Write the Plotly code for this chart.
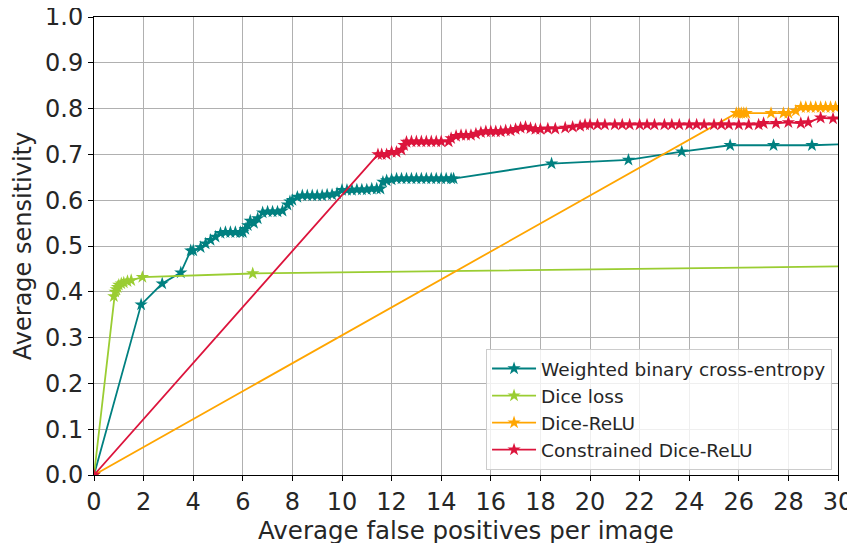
import plotly.graph_objects as go

# ---- data ----
wbce_x = [0, 1.9, 2.75, 3.5, 3.9, 4.0, 4.3, 4.5, 4.7, 4.9, 5.1, 5.3, 5.5, 5.7, 5.9, 6.0,
          6.1, 6.2, 6.3, 6.45, 6.6, 6.8, 7.0, 7.2, 7.4, 7.6, 7.8, 7.9, 8.0, 8.2, 8.4, 8.6,
          8.8, 9.0, 9.2, 9.4, 9.6, 9.8, 10.0, 10.2, 10.4, 10.6, 10.8, 11.0, 11.2, 11.4, 11.55,
          11.65, 11.8, 12.0, 12.2, 12.4, 12.6, 12.8, 13.0, 13.2, 13.4, 13.6, 13.8, 14.0, 14.2,
          14.4, 14.5, 18.45, 21.55, 23.7, 25.65, 27.4, 28.95, 31.0]
wbce_y = [0, 0.372, 0.418, 0.442, 0.49, 0.49, 0.497, 0.505, 0.513, 0.52, 0.528, 0.53, 0.53,
          0.53, 0.53, 0.53, 0.537, 0.545, 0.555, 0.55, 0.56, 0.573, 0.575, 0.575, 0.575, 0.577,
          0.59, 0.597, 0.6, 0.607, 0.61, 0.61, 0.61, 0.61, 0.61, 0.612, 0.612, 0.615, 0.622,
          0.622, 0.622, 0.623, 0.623, 0.623, 0.625, 0.625, 0.625, 0.64, 0.643, 0.645, 0.647,
          0.647, 0.647, 0.647, 0.647, 0.647, 0.647, 0.647, 0.647, 0.647, 0.647, 0.647, 0.647,
          0.68, 0.688, 0.706, 0.72, 0.72, 0.72, 0.724]

dice_x = [0, 0.8, 0.85, 0.9, 0.95, 1.0, 1.1, 1.2, 1.35, 1.5, 1.95, 6.4, 31.0]
dice_y = [0, 0.39, 0.40, 0.405, 0.41, 0.415, 0.418, 0.42, 0.423, 0.425, 0.432, 0.44, 0.456]

relu_x = [0, 25.9, 26.0, 26.1, 26.2, 26.3, 27.3, 27.8, 28.0, 28.3, 28.5, 28.7, 28.9, 29.1,
          29.3, 29.5, 29.7, 29.9, 31.0]
relu_y = [0, 0.79, 0.79, 0.79, 0.79, 0.79, 0.79, 0.79, 0.79, 0.795, 0.803, 0.803, 0.803,
          0.803, 0.803, 0.803, 0.803, 0.803, 0.803]

cdr_x = [0, 11.45, 11.6, 11.8, 12.0, 12.2, 12.4, 12.5, 12.6, 12.8, 13.0, 13.2, 13.4, 13.6,
         13.8, 14.0, 14.3, 14.4, 14.6, 14.8, 15.0, 15.2, 15.4, 15.6, 15.8, 16.0, 16.2, 16.4,
         16.6, 16.8, 17.0, 17.2, 17.4, 17.6, 17.8, 18.0, 18.3, 18.6, 19.0, 19.3, 19.6, 19.8,
         20.0, 20.3, 20.6, 21.0, 21.3, 21.6, 22.0, 22.3, 22.6, 23.0, 23.3, 23.6, 24.0, 24.3,
         24.6, 25.0, 25.3, 25.6, 26.0, 26.4, 26.8, 27.0, 27.5, 28.0, 28.5, 28.8, 29.3, 29.8, 31.0]
cdr_y = [0, 0.70, 0.70, 0.70, 0.705, 0.705, 0.71, 0.72, 0.727, 0.728, 0.728, 0.728, 0.728,
         0.728, 0.728, 0.728, 0.728, 0.735, 0.74, 0.742, 0.742, 0.742, 0.745, 0.748, 0.75,
         0.75, 0.75, 0.75, 0.752, 0.752, 0.755, 0.758, 0.76, 0.757, 0.755, 0.755, 0.756,
         0.756, 0.758, 0.76, 0.762, 0.765, 0.765, 0.765, 0.765, 0.765, 0.765, 0.765, 0.765,
         0.765, 0.765, 0.765, 0.765, 0.765, 0.765, 0.765, 0.765, 0.765, 0.765, 0.765, 0.765,
         0.765, 0.765, 0.768, 0.768, 0.77, 0.768, 0.77, 0.78, 0.778, 0.778]

names = ["Weighted binary cross-entropy", "Dice loss", "Dice-ReLU", "Constrained Dice-ReLU"]
colors = ["#008080", "#9ACD32", "#FFA500", "#DC143C"]
xs_tick = list(range(0, 31, 2))
ys_tick = [i / 10 for i in range(11)]

fig = go.Figure()
for name, xv, yv, c in zip(names, [wbce_x, dice_x, relu_x, cdr_x],
                           [wbce_y, dice_y, relu_y, cdr_y], colors):
    fig.add_trace(go.Scatter(x=xv, y=yv, name=name, mode="lines+markers",
                             line=dict(color=c, width=1.8),
                             marker=dict(symbol="star", size=10, color=c)))

font = "DejaVu Sans, sans-serif"
fig.update_layout(
    width=855, height=543,
    margin=dict(l=86, r=25, t=9, b=76),
    paper_bgcolor="white", plot_bgcolor="white",
    font=dict(family=font, color="#262626"),
    showlegend=True,
    legend=dict(x=0.992, y=0.011, xanchor="right", yanchor="bottom",
                bgcolor="rgba(255,255,255,0.8)", bordercolor="#cccccc", borderwidth=1,
                font=dict(size=18.5, family=font), tracegroupgap=0, itemwidth=44),
)
fig.update_xaxes(range=[0, 30], tickvals=xs_tick, ticktext=[str(v) for v in xs_tick],
                 showgrid=True, gridcolor="#b0b0b0", gridwidth=1,
                 showline=True, linecolor="black", linewidth=1, mirror=True,
                 ticks="outside", ticklen=5, tickcolor="black", ticklabeloverflow="allow",
                 tickfont=dict(size=24), zeroline=False, automargin=False,
                 title=dict(text="Average false positives per image", font=dict(size=24.5), standoff=0))
fig.update_yaxes(range=[0, 1.0], tickvals=ys_tick, ticktext=[f"{v:.1f}" for v in ys_tick],
                 showgrid=True, gridcolor="#b0b0b0", gridwidth=1,
                 showline=True, linecolor="black", linewidth=1, mirror=True,
                 ticks="outside", ticklen=5, tickcolor="black", ticklabeloverflow="allow",
                 tickfont=dict(size=24), zeroline=False, automargin=False,
                 title=dict(text="Average sensitivity", font=dict(size=24), standoff=6))

fig.write_html("out.html")
